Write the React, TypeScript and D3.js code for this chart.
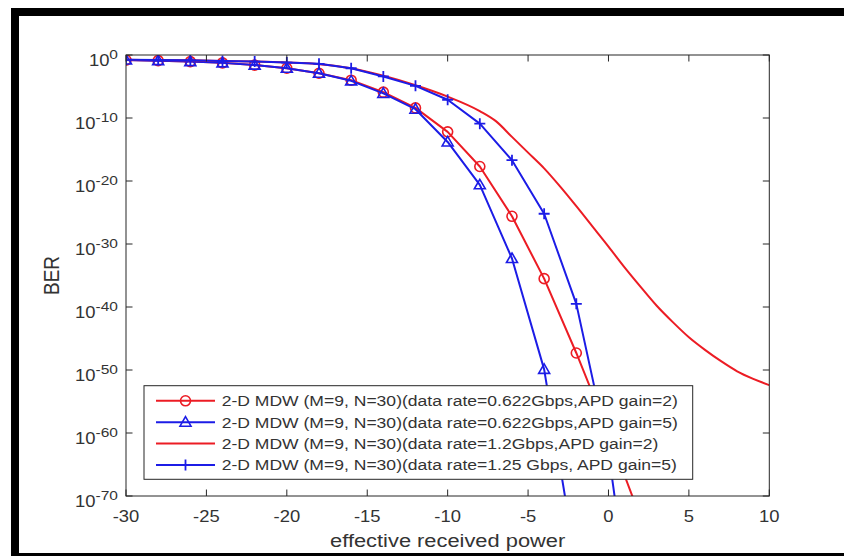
import React from 'react';
import * as d3 from 'd3';

// BER values are stored as log10(BER)
const xCircle = [-30, -28, -26, -24, -22, -20, -18, -16, -14, -12, -10, -8, -6, -4, -2, 0, 2];
const berCircle = [-0.8, -0.9, -1.05, -1.25, -1.6, -2.1, -2.9, -4.0, -5.9, -8.4, -12.2, -17.7, -25.6, -35.5, -47.3, -60, -73.5];

const xTriangle = [-30, -28, -26, -24, -22, -20, -18, -16, -14, -12, -10, -8, -6, -4, -2];
const berTriangle = [-0.8, -0.9, -1.05, -1.25, -1.6, -2.1, -2.9, -4.1, -6.1, -8.6, -13.8, -20.6, -32.3, -49.9, -81];

const xSmooth = [-30, -28, -26, -24, -22, -20, -18, -16, -14, -12, -10, -8, -7, -6, -5, -4, -3, -2, -1, 0, 1, 2, 3, 4, 5, 6, 7, 8, 9, 10];
const berSmooth = [-0.75, -0.8, -0.85, -0.95, -1.05, -1.2, -1.45, -2.1, -3.3, -4.8, -6.6, -8.9, -10.5, -13.0, -15.5, -18.0, -20.9, -24.0, -27.2, -30.4, -33.7, -36.8, -39.8, -42.4, -44.8, -46.8, -48.6, -50.2, -51.4, -52.4];

const xPlus = [-30, -28, -26, -24, -22, -20, -18, -16, -14, -12, -10, -8, -6, -4, -2, 0, 2];
const berPlus = [-0.75, -0.8, -0.85, -0.95, -1.05, -1.2, -1.4, -2.1, -3.4, -4.9, -7.1, -10.9, -16.7, -25.2, -39.5, -63, -100];

const xTicks = [-30, -25, -20, -15, -10, -5, 0, 5, 10];
const yTickExps = [0, -10, -20, -30, -40, -50, -60, -70];

const legendLabels = [
  '2-D MDW (M=9, N=30)(data rate=0.622Gbps,APD gain=2)',
  '2-D MDW (M=9, N=30)(data rate=0.622Gbps,APD gain=5)',
  '2-D MDW (M=9, N=30)(data rate=1.2Gbps,APD gain=2)',
  '2-D MDW (M=9, N=30)(data rate=1.25 Gbps, APD gain=5)',
];

const RED = '#ec1c24';
const BLUE = '#1c1ce6';
const AXIS = '#262626';
const FONT = '"Liberation Sans", Arial, sans-serif';
const STRETCH = 1.15;

const W = 844;
const H = 556;
const left = 126, right = 769.3, top = 55, bottom = 496;

type Pt = { x: number; y: number };
const zip = (xs: number[], ys: number[]): Pt[] => xs.map((x, i) => ({ x, y: Math.pow(10, ys[i]) }));

const Marker = ({ kind, cx, cy, color }: { kind: string; cx: number; cy: number; color: string }) => {
  if (kind === 'circle') return <circle cx={cx} cy={cy} r={5} fill="none" stroke={color} strokeWidth={1.6} />;
  if (kind === 'triangle')
    return <path d={`M${cx},${cy - 5.5}L${cx + 5.5},${cy + 4}L${cx - 5.5},${cy + 4}Z`} fill="none" stroke={color} strokeWidth={1.6} />;
  if (kind === 'plus')
    return <path d={`M${cx - 5.5},${cy}H${cx + 5.5}M${cx},${cy - 5.5}V${cy + 5.5}`} fill="none" stroke={color} strokeWidth={1.8} />;
  return null;
};

const App = () => {
  const x = d3.scaleLinear().domain([-30, 10]).range([left, right]);
  const y = d3.scaleLog().domain([1e-70, 1]).range([bottom, top]);

  const series = [
    { data: zip(xCircle, berCircle), color: RED, marker: 'circle', curve: d3.curveLinear },
    { data: zip(xTriangle, berTriangle), color: BLUE, marker: 'triangle', curve: d3.curveLinear },
    { data: zip(xSmooth, berSmooth), color: RED, marker: 'none', curve: d3.curveMonotoneX },
    { data: zip(xPlus, berPlus), color: BLUE, marker: 'plus', curve: d3.curveLinear },
  ];

  const legX = 144, legY = 385.7, legW = 548.7, legH = 93.6;
  const rowY = (i: number) => 400.8 + i * 21.4;

  return (
    <svg width={W} height={H} style={{ position: 'absolute', left: 0, top: 0, background: '#fff' }} fontFamily={FONT}>
      <defs>
        <clipPath id="plotClip">
          <rect x={left} y={top} width={right - left} height={bottom - top} />
        </clipPath>
      </defs>
      <rect x={0} y={0} width={W} height={H} fill="#fff" />
      {/* black frame of the original screenshot */}
      <rect x={11} y={8} width={W - 11} height={8} fill="#000" />
      <rect x={11} y={8} width={8} height={H - 8} fill="#000" />
      <rect x={11} y={553} width={W - 11} height={3} fill="#000" />

      {/* series */}
      <g clipPath="url(#plotClip)">
        {series.map((s, i) => {
          const line = d3
            .line<Pt>()
            .x(d => x(d.x))
            .y(d => y(d.y))
            .curve(s.curve);
          return (
            <g key={i}>
              <path d={line(s.data) || ''} fill="none" stroke={s.color} strokeWidth={2} strokeLinejoin="round" />
              {s.marker !== 'none' &&
                s.data.map((d, j) => <Marker key={j} kind={s.marker} cx={x(d.x)} cy={y(d.y)} color={s.color} />)}
            </g>
          );
        })}
      </g>

      {/* axes box and ticks */}
      <rect x={left} y={top} width={right - left} height={bottom - top} fill="none" stroke={AXIS} strokeWidth={1} />
      {xTicks.map(t => (
        <g key={`xt${t}`} stroke={AXIS} strokeWidth={1}>
          <line x1={x(t)} x2={x(t)} y1={bottom} y2={bottom - 6.5} />
          <line x1={x(t)} x2={x(t)} y1={top} y2={top + 6.5} />
        </g>
      ))}
      {yTickExps.map(e => (
        <g key={`yt${e}`} stroke={AXIS} strokeWidth={1}>
          <line x1={left} x2={left + 6.5} y1={y(Math.pow(10, e))} y2={y(Math.pow(10, e))} />
          <line x1={right} x2={right - 6.5} y1={y(Math.pow(10, e))} y2={y(Math.pow(10, e))} />
        </g>
      ))}

      {/* tick labels */}
      {xTicks.map(t => (
        <text
          key={`xl${t}`}
          transform={`translate(${x(t)},${521.5}) scale(${STRETCH},1)`}
          textAnchor="middle"
          fontSize={16}
          fill="#333"
        >
          {t}
        </text>
      ))}
      {yTickExps.map(e => (
        <text
          key={`yl${e}`}
          transform={`translate(118,${y(Math.pow(10, e)) + 11}) scale(${STRETCH},1)`}
          textAnchor="end"
          fontSize={16}
          fill="#333"
        >
          10
          <tspan dy={-6.7} fontSize={13.5}>
            {e}
          </tspan>
        </text>
      ))}

      {/* axis labels */}
      <text
        transform={`translate(${(left + right) / 2},546.5) scale(${STRETCH},1)`}
        textAnchor="middle"
        fontSize={19}
        fill="#333"
      >
        effective received power
      </text>
      <text
        transform={`translate(59,${(top + bottom) / 2}) rotate(-90) scale(1,${STRETCH})`}
        textAnchor="middle"
        fontSize={19}
        fill="#333"
      >
        BER
      </text>

      {/* legend */}
      <rect x={legX} y={legY} width={legW} height={legH} fill="#fff" stroke={AXIS} strokeWidth={1} />
      {legendLabels.map((lab, i) => {
        const s = series[i];
        const ry = rowY(i);
        return (
          <g key={`lg${i}`}>
            <line x1={156} x2={215} y1={ry} y2={ry} stroke={s.color} strokeWidth={2} />
            {s.marker !== 'none' && <Marker kind={s.marker} cx={185.5} cy={ry} color={s.color} />}
            <text transform={`translate(221.7,${ry + 5.3}) scale(1.17,1)`} fontSize={15} fill="#333">
              {lab}
            </text>
          </g>
        );
      })}
    </svg>
  );
};

export default App;
